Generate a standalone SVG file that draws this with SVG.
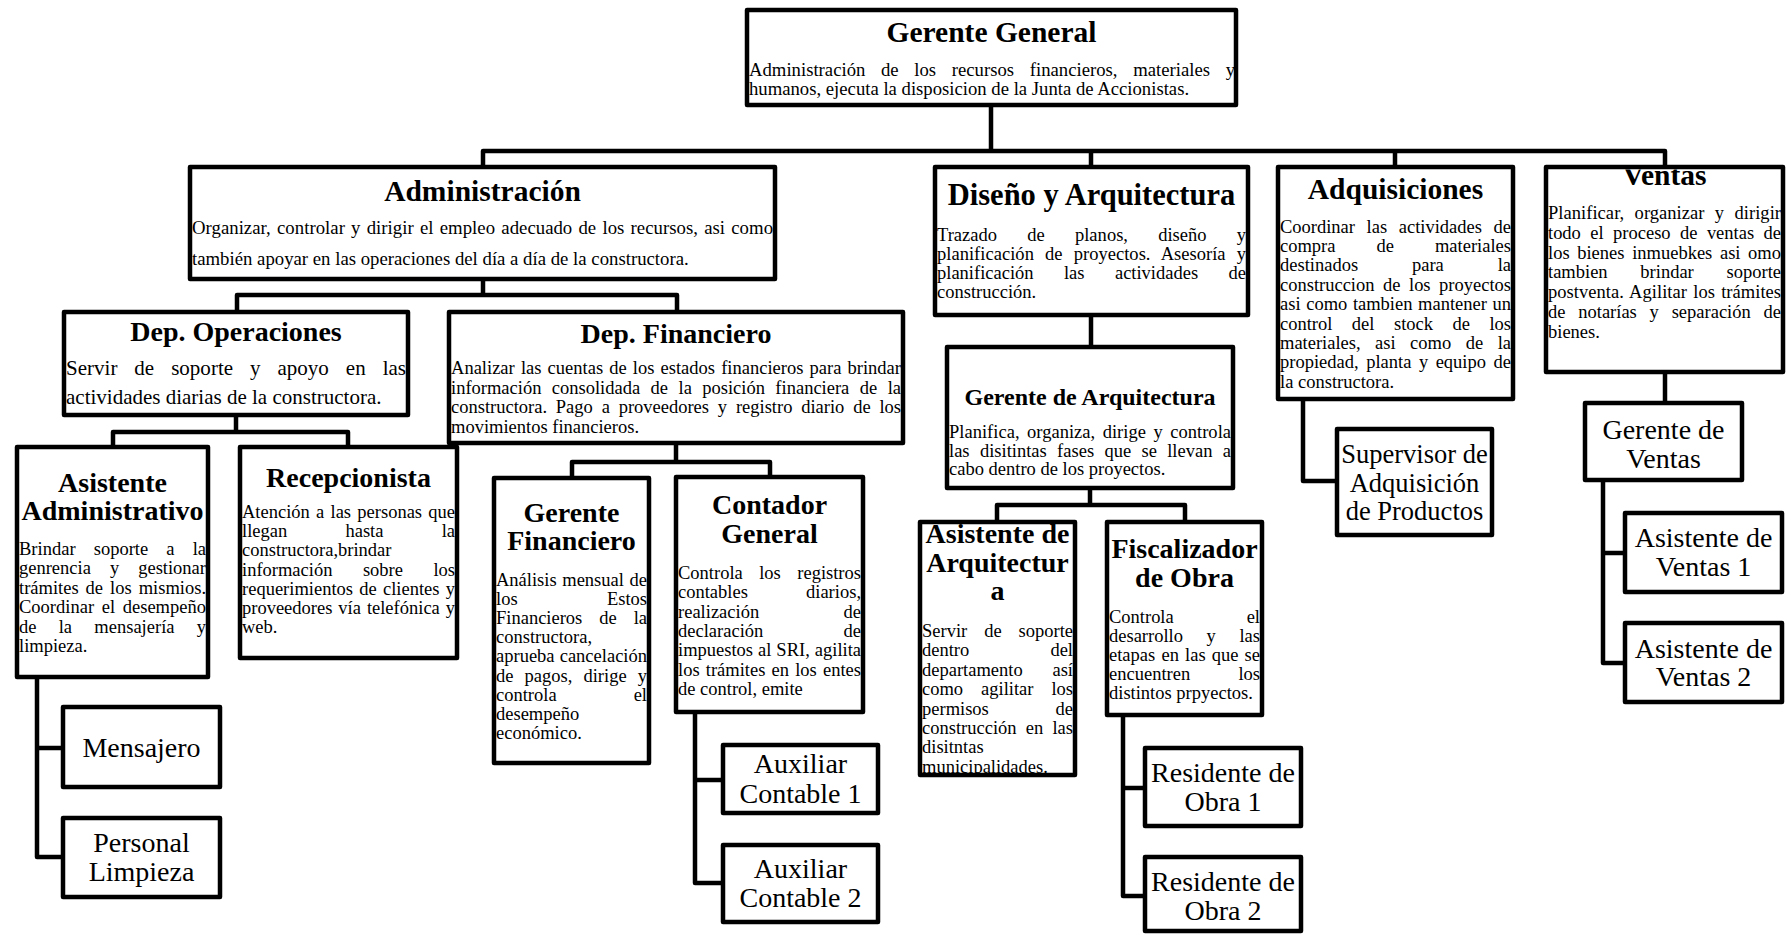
<svg xmlns="http://www.w3.org/2000/svg" width="1791" height="935" viewBox="0 0 1791 935">
<style>
.box{fill:#fff;stroke:#000;stroke-width:4.5;stroke-linejoin:round}
.con{fill:none;stroke:#000;stroke-width:4.5;stroke-linejoin:round}
text{font-family:"Liberation Serif","Times New Roman",serif;fill:#000}
.t{font-weight:bold;font-size:28px;text-anchor:middle}
.tl{font-size:29.5px}
.b{font-size:18.5px}
.n{font-size:28px;text-anchor:middle}
</style>
<defs>
<clipPath id="clipV"><rect x="1546" y="169.5" width="237" height="203"/></clipPath>
</defs>
<rect width="1791" height="935" fill="#fff"/>
<g id="connectors">
<path class="con" d="M483,167 V151 H1665 V167 M991,105 V151 M1091,151 V167 M1395,151 V167"/>
<path class="con" d="M237,312 V295 H677 V312 M483,279 V295"/>
<path class="con" d="M113,447 V432 H348 V447 M236,415 V432"/>
<path class="con" d="M572,478 V462 H770 V477 M676,443 V462"/>
<path class="con" d="M1091,315 V347"/>
<path class="con" d="M997,522 V505 H1185 V522 M1090,488 V505"/>
<path class="con" d="M37,677 V857 H63 M37,748 H63"/>
<path class="con" d="M695,712 V883 H723 M695,780 H723"/>
<path class="con" d="M1123,715 V896 H1145 M1123,788 H1145"/>
<path class="con" d="M1303,399 V481 H1337"/>
<path class="con" d="M1665,372 V403"/>
<path class="con" d="M1603,480 V663 H1625 M1603,553 H1625"/>
</g>
<g id="gerente-general">
<rect class="box" x="747" y="10" width="489" height="95"/>
<text class="t tl" x="991.5" y="42">Gerente General</text>
<text class="b" style="font-size:18.7px" x="749" y="75.5" textLength="486" lengthAdjust="spacing" word-spacing="11">Administración de los recursos financieros, materiales y</text>
<text class="b" style="font-size:18.7px" x="749" y="95">humanos, ejecuta la disposicion de la Junta de Accionistas.</text>
</g>
<g id="administracion">
<rect class="box" x="190" y="167" width="585" height="112"/>
<text class="t tl" x="482.5" y="201">Administración</text>
<text class="b" style="font-size:18.75px" x="192" y="234" textLength="581" lengthAdjust="spacing" word-spacing="1.5">Organizar, controlar y dirigir el empleo adecuado de los recursos, asi como</text>
<text class="b" style="font-size:18.75px" x="192" y="264.5">también apoyar en las operaciones del día a día de la constructora.</text>
</g>
<g id="diseno-arquitectura">
<rect class="box" x="935" y="167" width="313" height="148"/>
<text class="t" style="font-size:30.5px" x="1091.5" y="205">Diseño y Arquitectura</text>
<text class="b" x="937" y="240.5" textLength="309" lengthAdjust="spacing" word-spacing="25.5">Trazado de planos, diseño y</text>
<text class="b" x="937" y="259.5" textLength="309" lengthAdjust="spacing" word-spacing="6.5">planificación de proyectos. Asesoría y</text>
<text class="b" x="937" y="278.5" textLength="309" lengthAdjust="spacing" word-spacing="25.8">planificación las actividades de</text>
<text class="b" x="937" y="297.5">construcción.</text>
</g>
<g id="adquisiciones">
<rect class="box" x="1278" y="167" width="235" height="232"/>
<text class="t tl" x="1395.5" y="199">Adquisiciones</text>
<text class="b" x="1280" y="232.5" textLength="231" lengthAdjust="spacing" word-spacing="7">Coordinar las actividades de</text>
<text class="b" x="1280" y="251.9" textLength="231" lengthAdjust="spacing" word-spacing="36.4">compra de materiales</text>
<text class="b" x="1280" y="271.3" textLength="231" lengthAdjust="spacing" word-spacing="49.2">destinados para la</text>
<text class="b" x="1280" y="290.7" textLength="231" lengthAdjust="spacing" word-spacing="3.9">construccion de los proyectos</text>
<text class="b" x="1280" y="310.1" textLength="231" lengthAdjust="spacing" word-spacing="1">asi como tambien mantener un</text>
<text class="b" x="1280" y="329.5" textLength="231" lengthAdjust="spacing" word-spacing="14.9">control del stock de los</text>
<text class="b" x="1280" y="348.9" textLength="231" lengthAdjust="spacing" word-spacing="9.9">materiales, asi como de la</text>
<text class="b" x="1280" y="368.3" textLength="231" lengthAdjust="spacing" word-spacing="2.9">propiedad, planta y equipo de</text>
<text class="b" x="1280" y="387.7">la constructora.</text>
</g>
<g id="ventas">
<rect class="box" x="1546" y="167" width="237" height="205"/>
<text class="t tl" x="1664.5" y="185" clip-path="url(#clipV)">Ventas</text>
<text class="b" x="1548" y="219" textLength="233" lengthAdjust="spacing" word-spacing="5.7">Planificar, organizar y dirigir</text>
<text class="b" x="1548" y="238.8" textLength="233" lengthAdjust="spacing" word-spacing="4.8">todo el proceso de ventas de</text>
<text class="b" x="1548" y="258.6" textLength="233" lengthAdjust="spacing" word-spacing="3">los bienes inmuebkes asi omo</text>
<text class="b" x="1548" y="278.4" textLength="233" lengthAdjust="spacing" word-spacing="28.1">tambien brindar soporte</text>
<text class="b" x="1548" y="298.2" textLength="233" lengthAdjust="spacing" word-spacing="1.6">postventa. Agilitar los trámites</text>
<text class="b" x="1548" y="318" textLength="233" lengthAdjust="spacing" word-spacing="8.2">de notarías y separación de</text>
<text class="b" x="1548" y="337.8">bienes.</text>
</g>
<g id="dep-operaciones">
<rect class="box" x="64" y="312" width="344" height="103"/>
<text class="t" x="236" y="341">Dep. Operaciones</text>
<text class="b" style="font-size:21px" x="66" y="375" textLength="340" lengthAdjust="spacing" word-spacing="11.7">Servir de soporte y apoyo en las</text>
<text class="b" style="font-size:21px" x="66" y="404">actividades diarias de la constructora.</text>
</g>
<g id="dep-financiero">
<rect class="box" x="449" y="312" width="454" height="131"/>
<text class="t" x="676" y="343">Dep. Financiero</text>
<text class="b" x="451" y="374" textLength="450" lengthAdjust="spacing" word-spacing="1.5">Analizar las cuentas de los estados financieros para brindar</text>
<text class="b" x="451" y="393.5" textLength="450" lengthAdjust="spacing" word-spacing="5.8">información consolidada de la posición financiera de la</text>
<text class="b" x="451" y="413" textLength="450" lengthAdjust="spacing" word-spacing="4.2">constructora. Pago a proveedores y registro diario de los</text>
<text class="b" x="451" y="432.5">movimientos financieros.</text>
</g>
<g id="asistente-administrativo">
<rect class="box" x="17" y="447" width="191" height="230"/>
<text class="t" x="112.5" y="492">Asistente</text>
<text class="t" x="112.5" y="520">Administrativo</text>
<text class="b" x="19" y="555" textLength="187" lengthAdjust="spacing" word-spacing="13.5">Brindar soporte a la</text>
<text class="b" x="19" y="574.4" textLength="187" lengthAdjust="spacing" word-spacing="14.4">genrencia y gestionar</text>
<text class="b" x="19" y="593.8" textLength="187" lengthAdjust="spacing" word-spacing="2.4">trámites de los mismios.</text>
<text class="b" x="19" y="613.2" textLength="187" lengthAdjust="spacing" word-spacing="3">Coordinar el desempeño</text>
<text class="b" x="19" y="632.6" textLength="187" lengthAdjust="spacing" word-spacing="17.6">de la mensajería y</text>
<text class="b" x="19" y="652">limpieza.</text>
</g>
<g id="recepcionista">
<rect class="box" x="240" y="447" width="217" height="211"/>
<text class="t" x="348.5" y="487">Recepcionista</text>
<text class="b" x="242" y="518" textLength="213" lengthAdjust="spacing" word-spacing="1.6">Atención a las personas que</text>
<text class="b" x="242" y="537.2" textLength="213" lengthAdjust="spacing" word-spacing="53.5">llegan hasta la</text>
<text class="b" x="242" y="556.4">constructora,brindar</text>
<text class="b" x="242" y="575.6" textLength="213" lengthAdjust="spacing" word-spacing="25.8">información sobre los</text>
<text class="b" x="242" y="594.8" textLength="213" lengthAdjust="spacing" word-spacing="1.6">requerimientos de clientes y</text>
<text class="b" x="242" y="614" textLength="213" lengthAdjust="spacing" word-spacing="1.3">proveedores vía telefónica y</text>
<text class="b" x="242" y="633.2">web.</text>
</g>
<g id="gerente-financiero">
<rect class="box" x="494" y="478" width="155" height="285"/>
<text class="t" x="571.5" y="522">Gerente</text>
<text class="t" x="571.5" y="550">Financiero</text>
<text class="b" x="496" y="586" textLength="151" lengthAdjust="spacing" word-spacing="1">Análisis mensual de</text>
<text class="b" x="496" y="605.1" textLength="151" lengthAdjust="spacing" word-spacing="84.7">los Estos</text>
<text class="b" x="496" y="624.2" textLength="151" lengthAdjust="spacing" word-spacing="12.3">Financieros de la</text>
<text class="b" x="496" y="643.3">constructora,</text>
<text class="b" x="496" y="662.4" textLength="151" lengthAdjust="spacing" word-spacing="0.5">aprueba cancelación</text>
<text class="b" x="496" y="681.5" textLength="151" lengthAdjust="spacing" word-spacing="6.5">de pagos, dirige y</text>
<text class="b" x="496" y="700.6" textLength="151" lengthAdjust="spacing" word-spacing="72.4">controla el</text>
<text class="b" x="496" y="719.7">desempeño</text>
<text class="b" x="496" y="738.8">económico.</text>
</g>
<g id="contador-general">
<rect class="box" x="676" y="477" width="187" height="235"/>
<text class="t" x="769.5" y="514">Contador</text>
<text class="t" x="769.5" y="543">General</text>
<text class="b" x="678" y="579" textLength="183" lengthAdjust="spacing" word-spacing="11.8">Controla los registros</text>
<text class="b" x="678" y="598.3" textLength="183" lengthAdjust="spacing" word-spacing="53.5">contables diarios,</text>
<text class="b" x="678" y="617.6" textLength="183" lengthAdjust="spacing" word-spacing="79.7">realización de</text>
<text class="b" x="678" y="636.9" textLength="183" lengthAdjust="spacing" word-spacing="75.6">declaración de</text>
<text class="b" x="678" y="656.2" textLength="183" lengthAdjust="spacing" word-spacing="0.4">impuestos al SRI, agilita</text>
<text class="b" x="678" y="675.5" textLength="183" lengthAdjust="spacing" word-spacing="1.5">los trámites en los entes</text>
<text class="b" x="678" y="694.8">de control, emite</text>
</g>
<g id="gerente-arquitectura">
<rect class="box" x="947" y="347" width="286" height="141"/>
<text class="t" style="font-size:24px" x="1090" y="405">Gerente de Arquitectura</text>
<text class="b" x="949" y="438" textLength="282" lengthAdjust="spacing" word-spacing="2.9">Planifica, organiza, dirige y controla</text>
<text class="b" x="949" y="456.5" textLength="282" lengthAdjust="spacing" word-spacing="5.7">las disitintas fases que se llevan a</text>
<text class="b" x="949" y="475">cabo dentro de los proyectos.</text>
</g>
<g id="asistente-arquitectura">
<rect class="box" x="920" y="522" width="155" height="253"/>
<text class="t" x="997.5" y="543">Asistente de</text>
<text class="t" x="997.5" y="572">Arquitectur</text>
<text class="t" x="997.5" y="600">a</text>
<text class="b" x="922" y="637" textLength="151" lengthAdjust="spacing" word-spacing="12.3">Servir de soporte</text>
<text class="b" x="922" y="656.4" textLength="151" lengthAdjust="spacing" word-spacing="76.5">dentro del</text>
<text class="b" x="922" y="675.8" textLength="151" lengthAdjust="spacing" word-spacing="25.1">departamento así</text>
<text class="b" x="922" y="695.2" textLength="151" lengthAdjust="spacing" word-spacing="13.3">como agilitar los</text>
<text class="b" x="922" y="714.6" textLength="151" lengthAdjust="spacing" word-spacing="62.1">permisos de</text>
<text class="b" x="922" y="734" textLength="151" lengthAdjust="spacing" word-spacing="4.6">construcción en las</text>
<text class="b" x="922" y="753.4">disitntas</text>
<text class="b" x="922" y="772.8">municipalidades.</text>
</g>
<g id="fiscalizador-obra">
<rect class="box" x="1107" y="522" width="155" height="193"/>
<text class="t" x="1184.5" y="558">Fiscalizador</text>
<text class="t" x="1184.5" y="587">de Obra</text>
<text class="b" x="1109" y="622.5" textLength="151" lengthAdjust="spacing" word-spacing="68.3">Controla el</text>
<text class="b" x="1109" y="641.5" textLength="151" lengthAdjust="spacing" word-spacing="19">desarrollo y las</text>
<text class="b" x="1109" y="660.5" textLength="151" lengthAdjust="spacing" word-spacing="1.5">etapas en las que se</text>
<text class="b" x="1109" y="679.5" textLength="151" lengthAdjust="spacing" word-spacing="43.6">encuentren los</text>
<text class="b" x="1109" y="698.5">distintos prpyectos.</text>
</g>
<g id="mensajero">
<rect class="box" x="63" y="707" width="157" height="80"/>
<text class="n" x="141.5" y="757">Mensajero</text>
</g>
<g id="personal-limpieza">
<rect class="box" x="63" y="818" width="157" height="79"/>
<text class="n" x="141.5" y="852">Personal</text>
<text class="n" x="141.5" y="881">Limpieza</text>
</g>
<g id="auxiliar-contable-1">
<rect class="box" x="723" y="745" width="155" height="68"/>
<text class="n" x="800.5" y="773">Auxiliar</text>
<text class="n" x="800.5" y="803">Contable 1</text>
</g>
<g id="auxiliar-contable-2">
<rect class="box" x="723" y="845" width="155" height="77"/>
<text class="n" x="800.5" y="877.5">Auxiliar</text>
<text class="n" x="800.5" y="907">Contable 2</text>
</g>
<g id="residente-obra-1">
<rect class="box" x="1145" y="748" width="156" height="78"/>
<text class="n" x="1223" y="782">Residente de</text>
<text class="n" x="1223" y="811">Obra 1</text>
</g>
<g id="residente-obra-2">
<rect class="box" x="1145" y="857" width="156" height="74"/>
<text class="n" x="1223" y="891">Residente de</text>
<text class="n" x="1223" y="920">Obra 2</text>
</g>
<g id="supervisor-adquisicion">
<rect class="box" x="1337" y="429" width="155" height="106"/>
<text class="n" style="font-size:26.5px" x="1414.5" y="463">Supervisor de</text>
<text class="n" style="font-size:26.5px" x="1414.5" y="491.5">Adquisición</text>
<text class="n" style="font-size:26.5px" x="1414.5" y="520">de Productos</text>
</g>
<g id="gerente-ventas">
<rect class="box" x="1585" y="403" width="157" height="77"/>
<text class="n" x="1663.5" y="438.5">Gerente de</text>
<text class="n" x="1663.5" y="467.5">Ventas</text>
</g>
<g id="asistente-ventas-1">
<rect class="box" x="1625" y="513" width="157" height="79"/>
<text class="n" x="1703.5" y="547">Asistente de</text>
<text class="n" x="1703.5" y="575.5">Ventas 1</text>
</g>
<g id="asistente-ventas-2">
<rect class="box" x="1625" y="623" width="157" height="79"/>
<text class="n" x="1703.5" y="657.5">Asistente de</text>
<text class="n" x="1703.5" y="686">Ventas 2</text>
</g>
</svg>
